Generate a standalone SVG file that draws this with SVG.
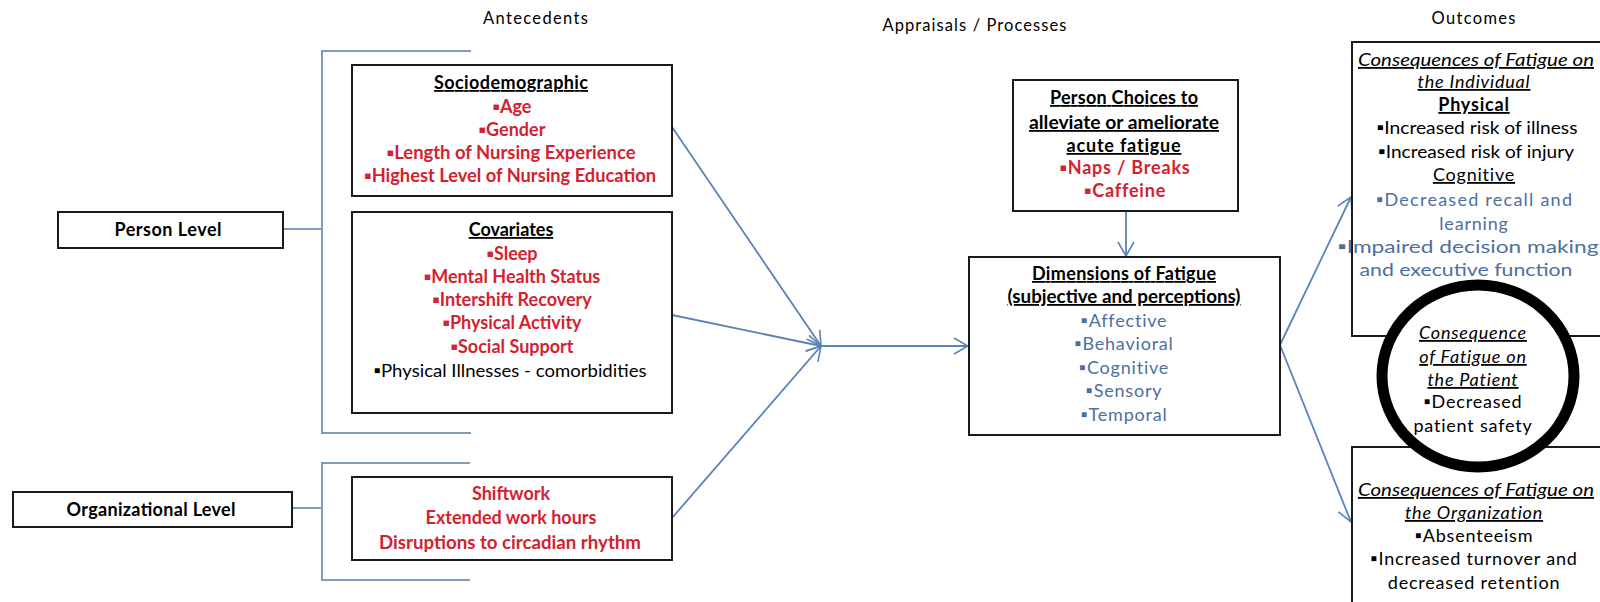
<svg xmlns="http://www.w3.org/2000/svg" width="1600" height="602" viewBox="0 0 1600 602">
<defs>
<marker id="arr" markerWidth="16" markerHeight="18" refX="15" refY="9" orient="auto" markerUnits="userSpaceOnUse">
<path d="M1,1 L15,9 L1,17" fill="none" stroke="#5a83b5" stroke-width="1.6"/>
</marker>
</defs>
<style>
text{font-family:Lato,"Liberation Sans",sans-serif;font-size:18px;text-anchor:middle;fill:#000}
.b{font-weight:bold}
.r{fill:#d3222f;font-weight:bold}
.bl{fill:#4d6f9e}
.u{text-decoration:underline}
.i{font-style:italic}
.hdr{font-size:16.5px;letter-spacing:1px}
.box{fill:#fff;stroke:#1a1a1a;stroke-width:2}
.brk{fill:none;stroke:#7f9cba;stroke-width:2}
.con{fill:none;stroke:#5a83b5;stroke-width:1.8}
.ls{letter-spacing:0.8px}
</style>
<rect width="1600" height="602" fill="#fff"/>

<g id="headers">
<text x="536" y="24" class="hdr" textLength="106">Antecedents</text>
<text x="975" y="31" class="hdr" textLength="185">Appraisals / Processes</text>
<text x="1474" y="24" class="hdr" textLength="85">Outcomes</text>
</g>

<g id="brackets">
<path class="brk" d="M471,51 H322 V433 H471"/>
<path class="brk" d="M470,463 H322 V580 H470"/>
<path class="brk" d="M283,229 H322"/>
<path class="brk" d="M292,508 H322"/>
</g>

<g id="connectors">
<path class="con" d="M672,127 L821,346" marker-end="url(#arr)"/>
<path class="con" d="M672,315 L821,346" marker-end="url(#arr)"/>
<path class="con" d="M672,518 L821,346" marker-end="url(#arr)"/>
<path class="con" d="M821,346 L968,346" marker-end="url(#arr)"/>
<path class="con" d="M1126,211 L1126,256" marker-end="url(#arr)"/>
<path class="con" d="M1280,345 L1351,197" marker-end="url(#arr)"/>
<path class="con" d="M1280,345 L1351,522" marker-end="url(#arr)"/>
</g>

<g id="person-level">
<rect class="box" x="58" y="212" width="225" height="36"/>
<text x="168" y="236" class="b" textLength="107">Person Level</text>
</g>

<g id="organizational-level">
<rect class="box" x="13" y="492" width="279" height="35"/>
<text x="151" y="516" class="b" textLength="169">Organizational Level</text>
</g>

<g id="sociodemographic">
<rect class="box" x="352" y="65" width="320" height="131"/>
<text x="511" y="89" class="b u" textLength="154">Sociodemographic</text>
<text x="512" y="113" class="r">▪Age</text>
<text x="512" y="136" class="r">▪Gender</text>
<text x="511" y="159" class="r" textLength="249" lengthAdjust="spacingAndGlyphs">▪Length of Nursing Experience</text>
<text x="510" y="182" class="r" textLength="292" lengthAdjust="spacingAndGlyphs">▪Highest Level of Nursing Education</text>
</g>

<g id="covariates">
<rect class="box" x="352" y="212" width="320" height="201"/>
<text x="511" y="236" class="b u">Covariates</text>
<text x="512" y="260" class="r">▪Sleep</text>
<text x="512" y="283" class="r">▪Mental Health Status</text>
<text x="512" y="306" class="r">▪Intershift Recovery</text>
<text x="512" y="329" class="r">▪Physical Activity</text>
<text x="512" y="353" class="r">▪Social Support</text>
<text x="510" y="377" textLength="273" lengthAdjust="spacingAndGlyphs">▪Physical Illnesses - comorbidities</text>
</g>

<g id="organizational-factors">
<rect class="box" x="352" y="477" width="320" height="83"/>
<text x="511" y="500" class="r">Shiftwork</text>
<text x="511" y="524" class="r">Extended work hours</text>
<text x="510" y="549" class="r" textLength="262" lengthAdjust="spacingAndGlyphs">Disruptions to circadian rhythm</text>
</g>

<g id="person-choices">
<rect class="box" x="1013" y="80" width="225" height="131"/>
<text x="1124" y="104" class="b u" textLength="148">Person Choices to</text>
<text x="1124" y="129" class="b u" textLength="190" lengthAdjust="spacingAndGlyphs">alleviate or ameliorate</text>
<text x="1124" y="152" class="b u ls">acute fatigue</text>
<text x="1125" y="174" class="r ls">▪Naps / Breaks</text>
<text x="1125" y="197" class="r ls">▪Caffeine</text>
</g>

<g id="dimensions">
<rect class="box" x="969" y="257" width="311" height="178"/>
<text x="1124" y="280" class="b u" textLength="184">Dimensions of Fatigue</text>
<text x="1124" y="303" class="b u" textLength="233" lengthAdjust="spacingAndGlyphs">(subjective and perceptions)</text>
<text x="1124" y="327" class="bl ls">▪Affective</text>
<text x="1124" y="350" class="bl ls">▪Behavioral</text>
<text x="1124" y="374" class="bl ls">▪Cognitive</text>
<text x="1124" y="397" class="bl ls">▪Sensory</text>
<text x="1124" y="421" class="bl ls">▪Temporal</text>
</g>

<g id="individual">
<rect class="box" x="1352" y="42" width="260" height="294"/>
<text x="1476" y="66" class="i u" textLength="236" lengthAdjust="spacingAndGlyphs">Consequences of Fatigue on</text>
<text x="1474" y="88" class="i u ls">the Individual</text>
<text x="1474" y="111" class="b u ls">Physical</text>
<text x="1477" y="134" textLength="201" lengthAdjust="spacingAndGlyphs">▪Increased risk of illness</text>
<text x="1476" y="158" textLength="196" lengthAdjust="spacingAndGlyphs">▪Increased risk of injury</text>
<text x="1474" y="181" class="u ls">Cognitive</text>
<text x="1474" y="206" class="bl" textLength="196">▪Decreased recall and</text>
<text x="1474" y="230" class="bl ls">learning</text>
<text x="1468" y="253" class="bl" textLength="261" lengthAdjust="spacingAndGlyphs">▪Impaired decision making</text>
<text x="1466" y="276" class="bl" textLength="213" lengthAdjust="spacingAndGlyphs">and executive function</text>
</g>

<g id="organization">
<rect class="box" x="1352" y="447" width="260" height="170"/>
<text x="1476" y="496" class="i u" textLength="236" lengthAdjust="spacingAndGlyphs">Consequences of Fatigue on</text>
<text x="1474" y="519" class="i u ls">the Organization</text>
<text x="1474" y="542" class="ls">▪Absenteeism</text>
<text x="1474" y="565" class="ls">▪Increased turnover and</text>
<text x="1474" y="589" class="ls">decreased retention</text>
</g>

<g id="patient">
<ellipse cx="1478" cy="376" rx="96" ry="91" fill="#fff" stroke="#000" stroke-width="11"/>
<text x="1473" y="339" class="i u ls">Consequence</text>
<text x="1473" y="363" class="i u ls">of Fatigue on</text>
<text x="1473" y="386" class="i u ls">the Patient</text>
<text x="1473" y="408" class="ls">▪Decreased</text>
<text x="1473" y="432" class="ls">patient safety</text>
</g>
</svg>
